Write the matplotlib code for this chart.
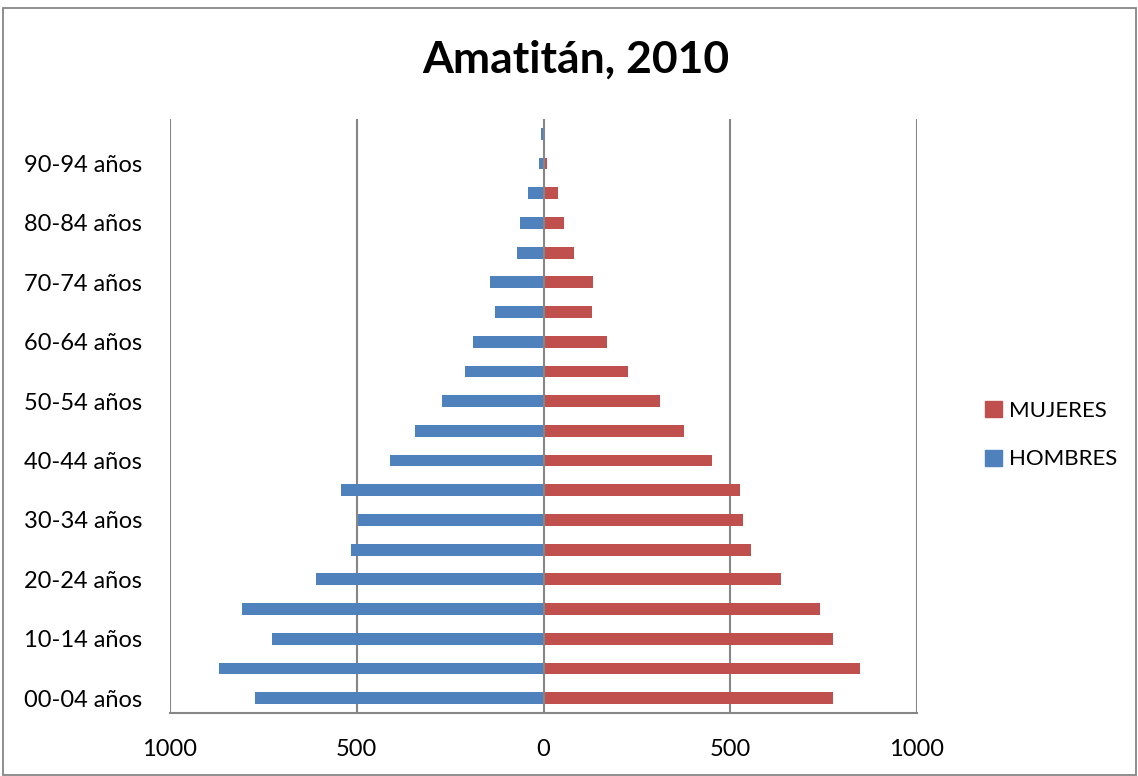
import numpy as np
import matplotlib
matplotlib.use('Agg')
import matplotlib.pyplot as plt
from matplotlib.patches import Patch, Rectangle

# Age groups, bottom to top
grupos = ['00-04 años', '05-09 años', '10-14 años', '15-19 años', '20-24 años',
          '25-29 años', '30-34 años', '35-39 años', '40-44 años', '45-49 años',
          '50-54 años', '55-59 años', '60-64 años', '65-69 años', '70-74 años',
          '75-79 años', '80-84 años', '85-89 años', '90-94 años', '95-99 años']
hombres = [772, 869, 727, 807, 609, 516, 496, 543, 412, 343,
           272, 211, 188, 131, 142, 71, 63, 42, 11, 7]
mujeres = [776, 847, 774, 741, 637, 555, 533, 525, 451, 375,
           313, 225, 169, 130, 133, 82, 55, 38, 9, 1]

azul = '#4F81BD'
rojo = '#C0504D'
gris = '#868686'

plt.rcParams['font.family'] = ['Lato', 'DejaVu Sans']

W, H = 1138, 776
fig = plt.figure(figsize=(W / 100, H / 100), dpi=100)
fig.patches.append(Rectangle((3 / W, 1 / H), 1133 / W, 767 / H, transform=fig.transFigure,
                             fill=False, edgecolor=gris, lw=1.3))

ax = fig.add_axes([170 / W, (H - 713) / H, (917 - 170) / W, (713 - 119) / H])
y = np.arange(len(grupos))
ax.barh(y, -np.array(hombres), height=0.4, color=azul, label='HOMBRES', zorder=3)
ax.barh(y, mujeres, height=0.4, color=rojo, label='MUJERES', zorder=3)

ax.set_xlim(-1000, 1000)
ax.set_ylim(-0.5, len(grupos) - 0.5)
for xv in [-1000, -500, 0, 500, 1000]:
    ax.axvline(xv, color=gris, lw=1.5, zorder=4 if xv == 0 else 1)

ax.set_xticks([-1000, -500, 0, 500, 1000])
ax.set_xticklabels(['1000', '500', '0', '500', '1000'])
ax.set_yticks(y[::2])
ax.set_yticklabels(grupos[::2])
ax.tick_params(length=0, labelsize=17, colors='black')
ax.tick_params(axis='x', pad=19)
ax.tick_params(axis='y', pad=20)
for s in ['top', 'right']:
    ax.spines[s].set_visible(False)
ax.spines['left'].set_visible(False)
ax.spines['bottom'].set_color(gris)
ax.spines['bottom'].set_linewidth(1.5)

fig.text(576 / W, 1 - 60 / H, 'Amatitán, 2010', ha='center', va='center',
         fontsize=32, fontweight='bold')

handles = [Patch(color=rojo, label='MUJERES'), Patch(color=azul, label='HOMBRES')]
fig.legend(handles=handles, loc='center left', bbox_to_anchor=(965 / W, 1 - 435 / H),
           frameon=False, fontsize=16, handlelength=0.75, handleheight=0.75,
           handletextpad=0.35, labelspacing=1.3)

fig.savefig('out.png', dpi=100)
